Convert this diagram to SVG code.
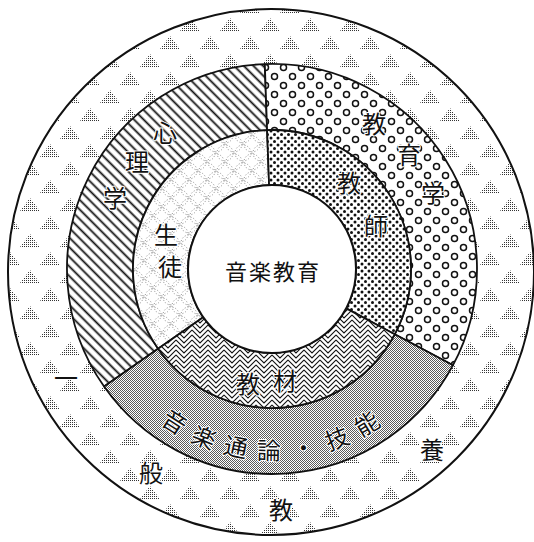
<svg xmlns="http://www.w3.org/2000/svg" width="534" height="542" viewBox="0 0 534 542">
<style>
.lbl{font-family:"Noto Sans CJK JP","Noto Sans CJK SC",sans-serif;font-size:24px;text-anchor:middle;fill:#111;stroke:#fff;stroke-width:2px;paint-order:stroke fill;stroke-linejoin:round}
.ctr{font-size:22px;stroke:none}
.seg{stroke:#111;stroke-width:1.8;stroke-linejoin:round}
</style>
<defs>
<pattern id="fine" width="2" height="2" patternUnits="userSpaceOnUse">
<rect x="0" y="0" width="1" height="1" fill="#333"/>
</pattern>
<pattern id="tri" width="40" height="36" patternUnits="userSpaceOnUse">
<path d="M10,0 L20,13 L0,13 Z M30,18 L40,31 L20,31 Z M-10,18 L0,31 L-20,31 Z" fill="url(#fine)"/>
</pattern>
<pattern id="halftone" width="2" height="2" patternUnits="userSpaceOnUse">
<rect width="2" height="2" fill="#fff"/>
<rect x="0" y="0" width="1" height="1" fill="#5a5a5a"/>
<rect x="1" y="1" width="1" height="1" fill="#5a5a5a"/>
</pattern>
<pattern id="hatch" width="6.8" height="6.8" patternUnits="userSpaceOnUse" patternTransform="rotate(45)">
<rect width="6.8" height="6.8" fill="#fff"/>
<line x1="0" y1="3.4" x2="6.8" y2="3.4" stroke="#111" stroke-width="1.8"/>
</pattern>
<pattern id="dots" width="7" height="7" patternUnits="userSpaceOnUse">
<rect width="7" height="7" fill="#fff"/>
<circle cx="1.5" cy="1.5" r="1.5" fill="#111"/>
<circle cx="5" cy="5" r="1.5" fill="#111"/>
</pattern>
<pattern id="rings" width="18" height="18" patternUnits="userSpaceOnUse">
<rect width="18" height="18" fill="#fff"/>
<circle cx="4.5" cy="4.5" r="3" fill="none" stroke="#111" stroke-width="1.5"/>
<circle cx="13.5" cy="13.5" r="3" fill="none" stroke="#111" stroke-width="1.5"/>
</pattern>
<pattern id="zig" width="16" height="5" patternUnits="userSpaceOnUse">
<rect width="16" height="5" fill="#fff"/>
<path d="M0,-10 L8,-2 L16,-10 M0,-5 L8,3 L16,-5 M0,0 L8,8 L16,0 M0,5 L8,13 L16,5" fill="none" stroke="#111" stroke-width="1.1"/>
</pattern>
<pattern id="loops" width="18" height="18" patternUnits="userSpaceOnUse">
<rect width="18" height="18" fill="#fff"/>
<g fill="none" stroke="#777" stroke-width="0.9" stroke-dasharray="1 2">
<circle cx="9" cy="9" r="8"/>
<circle cx="0" cy="0" r="8"/>
<circle cx="18" cy="0" r="8"/>
<circle cx="0" cy="18" r="8"/>
<circle cx="18" cy="18" r="8"/>
</g>
</pattern>
</defs>

<g id="outer-ring">
<circle cx="271" cy="272" r="263" fill="#fff"/>
<circle cx="271" cy="272" r="263" fill="url(#tri)" stroke="#111" stroke-width="2"/>
</g>

<g id="connectors"></g>

<g id="shinrigaku">
<path class="seg" fill="url(#hatch)" d="M158.1,348.7 L104.1,386.6 A205,205 0 0 1 264.8,64.1 L267.1,130.1 A139,139 0 0 0 158.1,348.7 Z"/>
</g>
<g id="kyoikugaku">
<path class="seg" fill="url(#rings)" d="M267.1,130.1 L264.8,64.1 A205,205 0 0 1 453.0,365.2 L394.7,334.3 A139,139 0 0 0 267.1,130.1 Z"/>
</g>
<g id="tsuron">
<path class="seg" fill="url(#halftone)" d="M394.7,334.3 L453.0,365.2 A205,205 0 0 1 104.1,386.6 L158.1,348.7 A139,139 0 0 0 394.7,334.3 Z"/>
</g>
<g id="seito">
<path class="seg" fill="url(#loops)" d="M203.2,317.2 L158.1,348.7 A139,139 0 0 1 267.1,130.1 L269.1,185.1 A84,84 0 0 0 203.2,317.2 Z"/>
</g>
<g id="kyoshi">
<path class="seg" fill="url(#dots)" d="M269.1,185.1 L267.1,130.1 A139,139 0 0 1 394.7,334.3 L346.2,308.4 A84,84 0 0 0 269.1,185.1 Z"/>
</g>
<g id="kyozai">
<path class="seg" fill="url(#zig)" d="M346.2,308.4 L394.7,334.3 A139,139 0 0 1 158.1,348.7 L203.2,317.2 A84,84 0 0 0 346.2,308.4 Z"/>
</g>
<g id="center">
<circle cx="272" cy="269" r="84" fill="#fff" stroke="#111" stroke-width="2"/>
<text class="lbl ctr" x="273" y="280" letter-spacing="2">音楽教育</text>
</g>

<g id="labels">
<text class="lbl" x="165" y="142">心</text>
<text class="lbl" x="137" y="171">理</text>
<text class="lbl" x="115" y="207">学</text>
<text class="lbl" x="166" y="244">生</text>
<text class="lbl" x="170" y="276">徒</text>
<text class="lbl" x="374" y="133">教</text>
<text class="lbl" x="409" y="164">育</text>
<text class="lbl" x="433" y="202">学</text>
<text class="lbl" x="349" y="192">教</text>
<text class="lbl" x="376" y="235">師</text>
<text class="lbl" x="248" y="393">教</text>
<text class="lbl" x="285" y="390">材</text>
<text class="lbl" transform="translate(174.2,422.5) rotate(32.5)" x="0" y="8.5">音</text>
<text class="lbl" transform="translate(203.8,437.8) rotate(22)" x="0" y="8.5">楽</text>
<text class="lbl" transform="translate(235.7,447.3) rotate(11.5)" x="0" y="8.5">通</text>
<text class="lbl" transform="translate(268.8,451.0) rotate(1)" x="0" y="8.5">論</text>
<text class="lbl" transform="translate(303.6,448.2) rotate(-10)" x="0" y="8.5">・</text>
<text class="lbl" transform="translate(337.2,438.9) rotate(-21)" x="0" y="8.5">技</text>
<text class="lbl" transform="translate(367.1,424.2) rotate(-31.5)" x="0" y="8.5">能</text>
<text class="lbl" x="66" y="387">一</text>
<text class="lbl" x="151" y="482">般</text>
<text class="lbl" x="281" y="519">教</text>
<text class="lbl" x="432" y="459">養</text>
</g>
</svg>
